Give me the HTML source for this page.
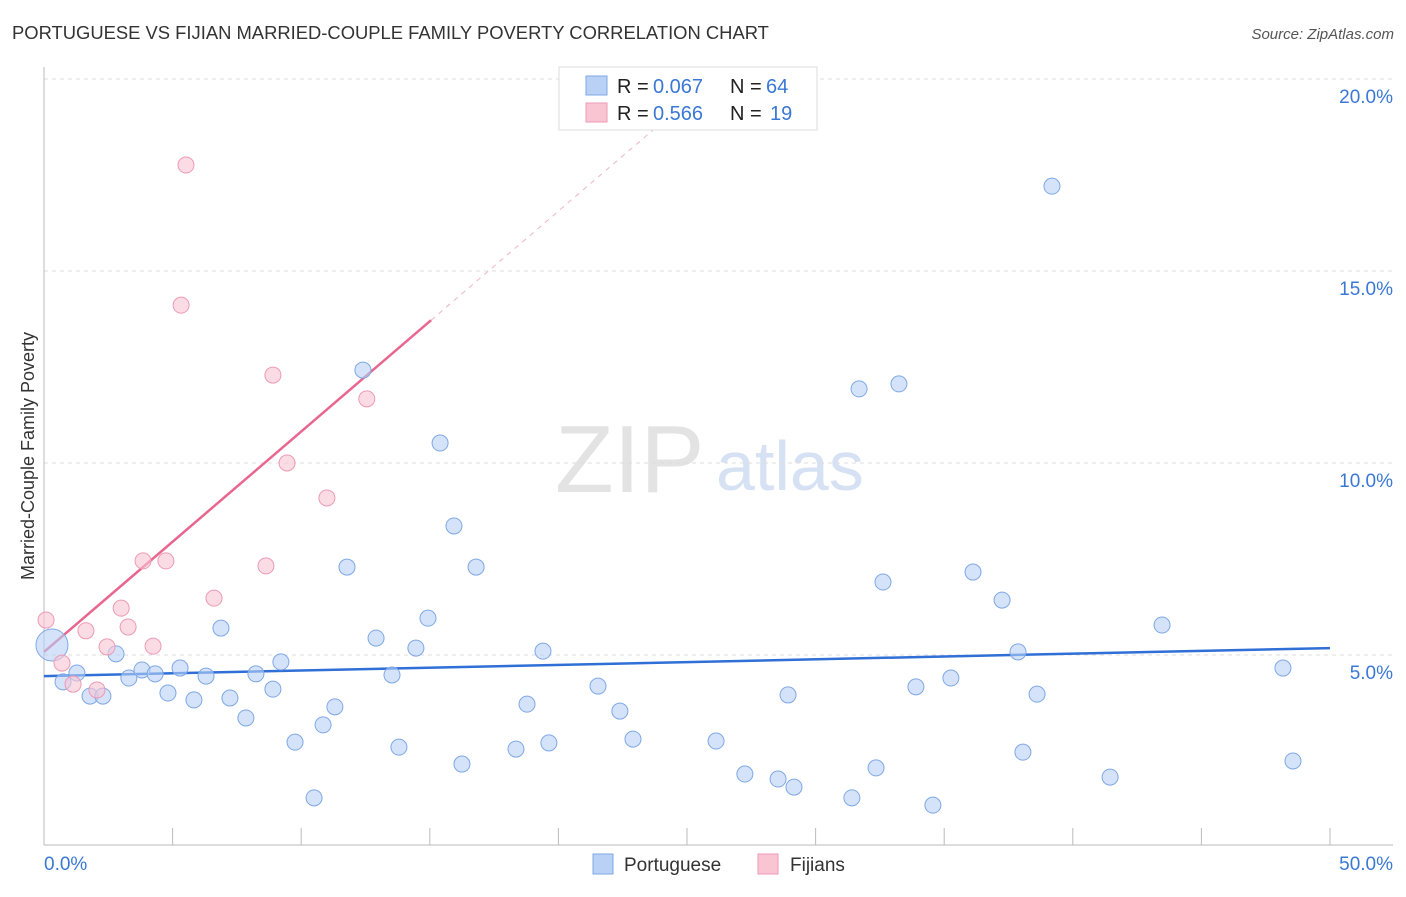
<!DOCTYPE html>
<html><head><meta charset="utf-8"><style>
body{margin:0;background:#fff;font-family:"Liberation Sans",sans-serif;}
svg text{font-family:"Liberation Sans",sans-serif;}
</style></head><body>
<svg id="chart" width="1406" height="892" viewBox="0 0 1406 892">
<text x="12" y="39" font-size="18.4" fill="#333">PORTUGUESE VS FIJIAN MARRIED-COUPLE FAMILY POVERTY CORRELATION CHART</text>
<text x="1394" y="39" font-size="15" fill="#555" text-anchor="end" font-style="italic">Source: ZipAtlas.com</text>
<text x="0" y="0" transform="translate(34,456) rotate(-90)" font-size="18" fill="#333" text-anchor="middle">Married-Couple Family Poverty</text>
<text x="555" y="492" font-size="96" fill="#e3e3e3" font-family="Liberation Serif">ZIP</text>
<text x="716" y="490" font-size="70" fill="#d6e2f4">atlas</text>
<g id="grid"></g><g id="axes"></g><g id="lines"></g><g id="pts"></g>
<g>
<rect x="559" y="67" width="258" height="63" fill="#fff" stroke="#ddd"/>
<rect x="586" y="76" width="21" height="19" fill="#b8d1f5" stroke="#7fa8e6"/>
<rect x="586" y="103" width="21" height="19" fill="#f9c5d3" stroke="#ee9ab5"/>
<text x="617" y="93" font-size="20" fill="#222">R =</text>
<text x="653" y="93" font-size="20" fill="#3a78d4">0.067</text>
<text x="730" y="93" font-size="20" fill="#222">N =</text>
<text x="766" y="93" font-size="20" fill="#3a78d4">64</text>
<text x="617" y="120" font-size="20" fill="#222">R =</text>
<text x="653" y="120" font-size="20" fill="#3a78d4">0.566</text>
<text x="730" y="120" font-size="20" fill="#222">N =</text>
<text x="770" y="120" font-size="20" fill="#3a78d4">19</text>
</g>
<g>
<rect x="593" y="854" width="20" height="20" fill="#b8d1f5" stroke="#7fa8e6"/>
<text x="624" y="871" font-size="19" fill="#333">Portuguese</text>
<rect x="758" y="854" width="20" height="20" fill="#f9c5d3" stroke="#ee9ab5"/>
<text x="790" y="871" font-size="19" fill="#333">Fijians</text>
</g>
</svg>
<script>
const xTicks=[0,5,10,15,20,25,30,35,40,45,50];
const yTicks=[5,10,15,20];
const porX=[0.31,0.74,1.28,1.79,2.29,2.80,3.30,3.81,4.32,4.82,5.29,5.83,6.30,6.88,7.23,7.85,8.24,8.90,9.21,9.76,10.50,10.85,11.31,11.78,12.40,12.91,13.53,13.80,14.46,14.93,15.40,15.94,16.25,16.80,18.35,18.78,19.40,19.63,21.54,22.39,22.90,26.13,27.25,28.54,28.93,29.16,31.41,31.69,32.35,32.62,33.24,33.90,34.56,35.26,36.12,37.25,37.87,38.06,38.61,39.19,41.45,43.47,48.17,48.56];
const porY=[5.26,4.30,4.53,3.93,3.93,5.03,4.40,4.61,4.51,4.01,4.66,3.83,4.45,5.70,3.88,3.36,4.51,4.11,4.82,2.73,1.28,3.18,3.65,7.29,12.42,5.44,4.48,2.60,5.18,5.96,10.52,8.36,2.16,7.29,2.55,3.72,5.10,2.71,4.19,3.54,2.81,2.76,1.90,1.77,3.96,1.56,1.28,11.93,2.06,6.90,12.06,4.17,1.09,4.40,7.16,6.43,5.08,2.47,3.98,17.21,1.82,5.78,4.66,2.24];
const fijX=[0.08,0.70,1.13,1.63,2.06,2.45,3.00,3.27,3.85,4.24,4.74,5.33,5.52,6.61,8.63,8.90,9.45,11.00,12.55];
const fijY=[5.91,4.79,4.24,5.63,4.09,5.21,6.22,5.73,7.45,5.23,7.45,14.11,17.76,6.48,7.32,12.29,10.00,9.09,11.67];
const porTrend=[4.45,5.18];
const fijTrend=[5.08,0.574];
const NS="http://www.w3.org/2000/svg";
const sx=v=>44+v*1286/50, sy=v=>847-v*38.4;
function mk(p,t,a){const e=document.createElementNS(NS,t);for(const k in a)e.setAttribute(k,a[k]);p.appendChild(e);return e;}
const grid=document.getElementById('grid'),axes=document.getElementById('axes'),lines=document.getElementById('lines'),pts=document.getElementById('pts');
yTicks.forEach(v=>{
 const l=mk(grid,'line',{x1:44,x2:1393,y1:sy(v),y2:sy(v),stroke:'#ddd','stroke-dasharray':'4,4'});
 
 
 const t=mk(axes,'text',{x:1393,y:sy(v)+24,'font-size':19,fill:'#3a78d4','text-anchor':'end'});t.textContent=v.toFixed(1)+'%';
 
 
});
mk(axes,'line',{x1:44,x2:1393,y1:845,y2:845,stroke:'#bbb'});
mk(axes,'line',{x1:44,x2:44,y1:67,y2:845,stroke:'#bbb'});
xTicks.forEach(v=>{
 const l=mk(axes,'line',{x1:sx(v),x2:sx(v),y1:828,y2:845,stroke:'#bbb'});
 
 
});
[[0,'start',44],[50,'end',1393]].forEach(([v,a,x])=>{
 const t=mk(axes,'text',{x:x,y:870,'font-size':19,fill:'#3a78d4','text-anchor':a});t.textContent=v.toFixed(1)+'%';
 
 
});
const pl=mk(lines,'line',{x1:sx(0),y1:sy(porTrend[0]),x2:sx(50),y2:sy(porTrend[1]),stroke:'#2f6fd6','stroke-width':2.5});


const xe=15.05, xt=(18.9-fijTrend[0])/fijTrend[1];
const fd=mk(lines,'line',{x1:sx(xe),y1:sy(fijTrend[0]+fijTrend[1]*xe),x2:sx(xt),y2:sy(18.9),stroke:'#f0b3c6','stroke-width':1,'stroke-dasharray':'5,5'});


const fl=mk(lines,'line',{x1:sx(0),y1:sy(fijTrend[0]),x2:sx(xe),y2:sy(fijTrend[0]+fijTrend[1]*xe),stroke:'#e8668f','stroke-width':2.5});


porX.forEach((x,i)=>{
 const c=mk(pts,'circle',{cx:sx(x),cy:sy(porY[i]),r:i===0?16:8,fill:'#b8d1f5','fill-opacity':0.6,stroke:'#7fa8e6','stroke-width':1});
 
 
});
fijX.forEach((x,i)=>{
 const c=mk(pts,'circle',{cx:sx(x),cy:sy(fijY[i]),r:8,fill:'#f9c5d3','fill-opacity':0.6,stroke:'#ee9ab5','stroke-width':1});
 
 
});
</script>
</body></html>
